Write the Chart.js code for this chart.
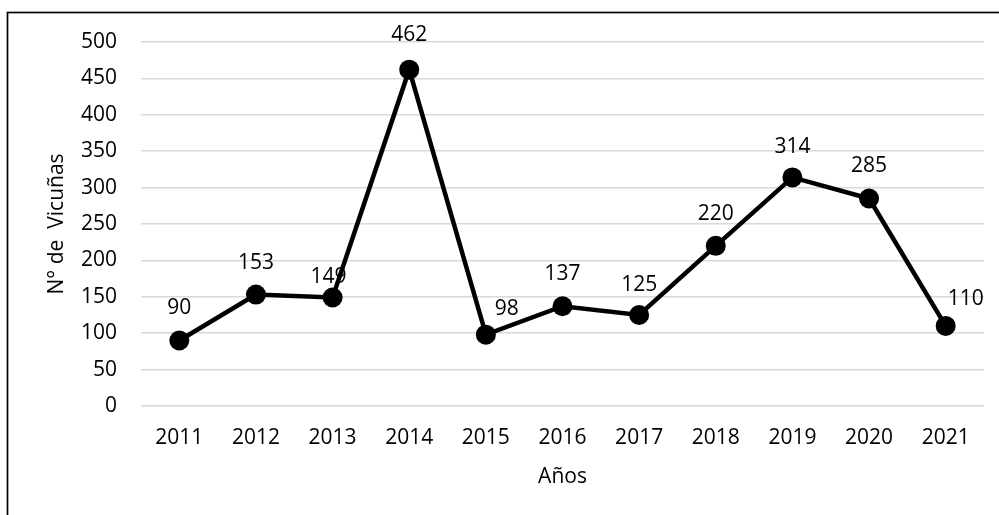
<!DOCTYPE html>
<html>
<head>
<meta charset="utf-8">
<script src="https://cdn.jsdelivr.net/npm/chart.js@4/dist/chart.umd.min.js"></script>
<style>
  html, body { margin: 0; padding: 0; background: #fff; }
  #wrap { width: 999px; height: 515px; position: relative; }
</style>
</head>
<body>
<div id="wrap"><canvas id="chart" width="999" height="515"></canvas></div>
<script>
const years = ['2011','2012','2013','2014','2015','2016','2017','2018','2019','2020','2021'];
const vicunas = [90, 153, 149, 462, 98, 137, 125, 220, 314, 285, 110];
const yTicks = [0, 50, 100, 150, 200, 250, 300, 350, 400, 450, 500];

const FONT = '"Open Sans", sans-serif';

// label nudges (px) so labels sit where the original put them
const labelDx = [0, 0, -4, 0, 21, 0, 0, 0, 0, 0, 20];
const labelDy = [-32, -32, -21, -35, -26, -32, -30, -32, -30, -33, -27];

const frame = {
  id: 'frame',
  beforeDraw(chart) {
    const ctx = chart.ctx;
    ctx.save();
    ctx.fillStyle = '#fff';
    ctx.fillRect(0, 0, chart.width, chart.height);
    ctx.strokeStyle = '#000';
    ctx.lineWidth = 1.7;
    ctx.strokeRect(7.5, 12.5, 1100, 600);
    ctx.restore();
  }
};

const pointLabels = {
  id: 'pointLabels',
  beforeDatasetsDraw(chart) {
    const ctx = chart.ctx;
    const meta = chart.getDatasetMeta(0);
    ctx.save();
    ctx.font = '21px ' + FONT;
    ctx.fillStyle = '#000';
    ctx.textAlign = 'center';
    ctx.textBaseline = 'middle';
    meta.data.forEach((pt, i) => {
      ctx.fillText(String(vicunas[i]), pt.x + labelDx[i], pt.y + labelDy[i]);
    });
    ctx.restore();
  }
};

new Chart(document.getElementById('chart'), {
  type: 'line',
  data: {
    labels: years,
    datasets: [{
      data: vicunas,
      borderColor: '#000',
      backgroundColor: '#000',
      borderWidth: 4.5,
      pointRadius: 10,
      pointHoverRadius: 10,
      pointBackgroundColor: '#000',
      pointBorderWidth: 0,
      tension: 0
    }]
  },
  options: {
    responsive: false,
    animation: false,
    events: [],
    layout: { padding: { top: 42, right: 15, left: 0, bottom: 0 } },
    plugins: { legend: { display: false }, tooltip: { enabled: false } },
    scales: {
      x: {
        offset: true,
        grid: { display: false, drawTicks: false },
        border: { display: false },
        ticks: { color: '#000', font: { family: FONT, size: 21 }, padding: 19, maxRotation: 0 },
        title: { display: true, text: 'Años', color: '#000', font: { family: FONT, size: 21 }, padding: { top: 0, bottom: 25 } },
        afterFit: s => { s.height = 109; }
      },
      y: {
        min: 0,
        max: 500,
        afterBuildTicks: s => { s.ticks = yTicks.map(v => ({ value: v })); },
        grid: { color: '#d9d9d9', lineWidth: 1.5, drawTicks: false },
        border: { display: false },
        ticks: { color: '#000', font: { family: FONT, size: 21 }, padding: 24 },
        title: { display: true, text: 'N° de  Vicuñas', color: '#000', font: { family: FONT, size: 21 }, padding: { top: 44, bottom: 0 } },
        afterFit: s => { s.width = 141; }
      }
    }
  },
  plugins: [frame, pointLabels]
});
</script>
</body>
</html>
